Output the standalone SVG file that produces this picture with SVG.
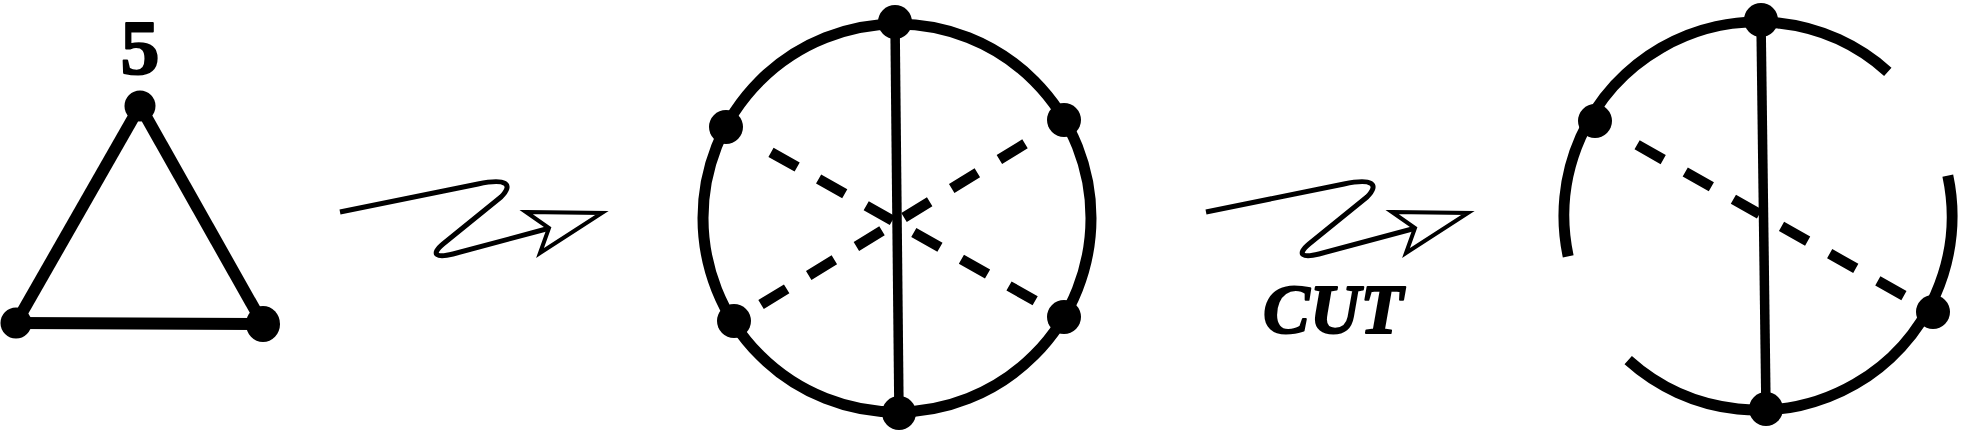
<svg xmlns="http://www.w3.org/2000/svg" width="1962" height="431" viewBox="0 0 1962 431">
<style>
.edge{stroke:#000;stroke-width:12;fill:none}
.ring{stroke:#000;stroke-width:11;fill:none}
.chord{stroke:#000;stroke-width:9.5;fill:none}
.dash{stroke:#000;stroke-width:10.5;fill:none;stroke-linecap:butt}
.node{fill:#000}
.squig{stroke:#000;stroke-width:5;fill:none;stroke-linejoin:round}
.head{stroke:#000;stroke-width:4;fill:#fff;stroke-linejoin:miter}
.lbl{fill:#000;stroke:#000;stroke-width:2;stroke-linejoin:round}
</style>
<defs>
<g id="squiggle">
<path class="squig" d="M340,212 L478,184 C506,178 514,184 501,197 L443,244 C430,255 437,258 453,254 L550,228"/>
<polygon class="head" points="526,212 602,213 540,253 549,228"/>
</g>
</defs>
<rect width="1962" height="431" fill="#fff"/>
<g id="connectors">
<line class="edge" x1="140" y1="106" x2="16" y2="323"/>
<line class="edge" x1="140" y1="106" x2="263" y2="324"/>
<line class="edge" x1="16" y1="323" x2="263" y2="324"/>
<circle class="ring" cx="897" cy="218" r="194"/>
<line class="chord" x1="895" y1="22" x2="899" y2="413"/>
<line class="dash" x1="771" y1="152.3" x2="1035.3" y2="300.8" stroke-dasharray="30 24.6"/>
<line class="dash" x1="1025" y1="143.8" x2="761" y2="304.5" stroke-dasharray="30 25.8"/>
<path class="ring" d="M1568.2,256.3 A194,194 0 0 1 1887.8,71.8"/>
<path class="ring" d="M1947.8,175.6 A194,194 0 0 1 1628.2,360.2"/>
<line class="chord" x1="1761" y1="20" x2="1766" y2="409"/>
<line class="dash" x1="1637.1" y1="144.8" x2="1904.1" y2="295.7" stroke-dasharray="30 25.3"/>
<use href="#squiggle"/>
<use href="#squiggle" transform="translate(866,0)"/>
</g>
<g id="triangle-nodes">
<circle id="t-top" class="node" cx="140" cy="106" r="15.5"/>
<circle id="t-bl" class="node" cx="16" cy="323" r="15.5"/>
<ellipse id="t-br" class="node" cx="263" cy="324" rx="17" ry="18"/>
</g>
<g id="circle1-nodes">
<circle id="c1-top" class="node" cx="895" cy="22" r="17"/>
<circle id="c1-ul" class="node" cx="726" cy="127" r="17"/>
<circle id="c1-ur" class="node" cx="1064" cy="120" r="17"/>
<circle id="c1-ll" class="node" cx="734" cy="321" r="17"/>
<circle id="c1-lr" class="node" cx="1064" cy="317" r="17"/>
<circle id="c1-bot" class="node" cx="899" cy="413" r="17"/>
</g>
<g id="circle2-nodes">
<circle id="c2-top" class="node" cx="1761" cy="20" r="17"/>
<circle id="c2-ul" class="node" cx="1595" cy="121" r="17"/>
<circle id="c2-lr" class="node" cx="1933" cy="312" r="17"/>
<circle id="c2-bot" class="node" cx="1766" cy="409" r="17"/>
</g>
<g id="labels">
<text class="lbl" x="140" y="74" font-family="Liberation Serif, serif" font-weight="bold" font-size="78" text-anchor="middle">5</text>
<text class="lbl" x="1333" y="333" font-family="Liberation Serif, serif" font-weight="bold" font-style="italic" font-size="70" text-anchor="middle">CUT</text>
</g>
</svg>
